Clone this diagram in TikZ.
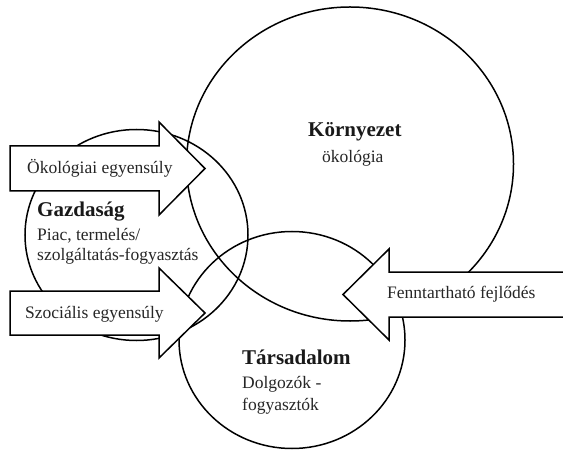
\documentclass[tikz,border=0pt]{standalone}
\usepackage{fontspec}
\setmainfont{Liberation Serif}
\usetikzlibrary{shapes.geometric}
\tikzset{
  ring/.style={draw=black, line width=1.5bp, ellipse, inner sep=0pt, outer sep=0pt},
  bigarrow/.style={draw=black, fill=white, line width=1.5bp, line join=miter},
  title/.style={inner sep=0pt, anchor=base west, font=\fontsize{21bp}{24bp}\selectfont\bfseries, text=black!90},
  body/.style={inner sep=0pt, anchor=base west, font=\fontsize{17.5bp}{20bp}\selectfont, text=black!85},
}
\begin{document}
\begin{tikzpicture}[x=1bp, y=-1bp]
\useasboundingbox (0,0) rectangle (563,450);
\clip (0,0) rectangle (563,450);
\fill[white] (0,0) rectangle (563,450);
% circles
\node (korny) [ring, minimum width=327bp, minimum height=314bp] at (350,164) {};
\node (tars) [ring, minimum width=226bp, minimum height=217bp] at (292,340) {};
\node (gazd) [ring, minimum width=223bp, minimum height=211bp] at (136.5,235) {};
% arrows
\draw[bigarrow] (10,146) -- (159,146) -- (159,122) -- (205,168.5) -- (159,215) -- (159,191) -- (10,191) -- cycle;
\draw[bigarrow] (10,291) -- (159,291) -- (159,268) -- (205,313) -- (159,358) -- (159,335) -- (10,335) -- cycle;
\draw[bigarrow] (575,272) -- (389,272) -- (389,249) -- (343,294.5) -- (389,340) -- (389,317) -- (575,317) -- cycle;
% texts
\node (kt) [title] at (308,137) {Környezet};
\node (ks) [body] at (322,162.5) {ökológia};
\node (gt) [title] at (37,217) {Gazdaság};
\node (gs1) [body] at (37,240.5) {Piac, termelés/};
\node (gs2) [body] at (37,260.5) {szolgáltatás-fogyasztás};
\node (tt) [title] at (242,364) {Társadalom};
\node (ts1) [body] at (242,388.5) {Dolgozók -};
\node (ts2) [body] at (242,410.5) {fogyasztók};
\node (a1) [body] at (27,173.5) {Ökológiai egyensúly};
\node (a2) [body] at (25,318.5) {Szociális egyensúly};
\node (a3) [body] at (387,298.5) {Fenntartható fejlődés};
\end{tikzpicture}
\end{document}
